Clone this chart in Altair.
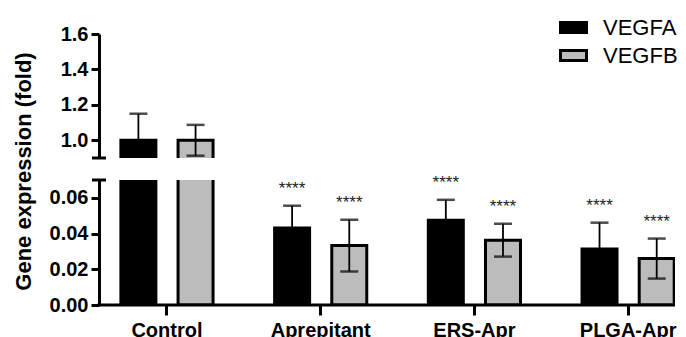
import altair as alt
import pandas as pd

categories = ["Control", "Aprepitant", "ERS-Apr", "PLGA-Apr"]
genes = ["VEGFA", "VEGFB"]
vegfa_mean = [1.0, 0.0431, 0.0474, 0.0313]
vegfa_sd = [0.15, 0.0125, 0.0115, 0.0148]
vegfb_mean = [1.0, 0.0333, 0.0363, 0.0260]
vegfb_sd = [0.087, 0.0145, 0.0092, 0.0112]
stars = ["", "****", "****", "****"]
upper_ticks = [1.0, 1.2, 1.4, 1.6]
lower_ticks = [0.0, 0.02, 0.04, 0.06]

rows = []
for i, c in enumerate(categories):
    for g, m, s in (("VEGFA", vegfa_mean[i], vegfa_sd[i]), ("VEGFB", vegfb_mean[i], vegfb_sd[i])):
        rows.append(dict(cat=c, gene=g, mean=m, lo=m - s, hi=m + s, star=stars[i]))
df = pd.DataFrame(rows)

FONT = "Liberation Sans"
W = 576
x_scale = alt.Scale(domain=categories, paddingInner=0.39, paddingOuter=0.0686, align=1)
off_scale = alt.Scale(domain=genes, paddingInner=0.388, paddingOuter=0.014)
color_scale = alt.Scale(domain=genes, range=["#000000", "#bcbcbc"])
legend = alt.Legend(title=None, orient="none", legendX=460, legendY=-21, padding=0,
                    symbolType="M-1,-0.38H1V0.38H-1Z", symbolSize=676,
                    symbolStrokeColor="black", symbolStrokeWidth=3,
                    labelFont=FONT, labelFontSize=22, labelColor="black",
                    rowPadding=2, labelOffset=15)


def panel(domain, height, yaxis, xaxis, cap_value, bottom):
    y_scale = alt.Scale(domain=domain, zero=False, nice=False)
    x_enc = alt.X("cat:N", scale=x_scale, sort=categories, axis=xaxis)
    off = alt.XOffset("gene:N", scale=off_scale)
    base = alt.Chart(df)
    bars = base.mark_bar(clip=True, stroke="black", strokeWidth=3).encode(
        x=x_enc, xOffset=off,
        y=alt.Y("mean:Q", scale=y_scale, axis=yaxis),
        color=alt.Color("gene:N", scale=color_scale, legend=legend))
    err = base.mark_rule(clip=True, color="black", strokeWidth=1.8).encode(
        x=x_enc, xOffset=off, y="lo:Q", y2="hi:Q")
    cap_hi = base.mark_tick(clip=True, color="black", thickness=2.5, size=18,
                            orient="horizontal").encode(x=x_enc, xOffset=off, y="hi:Q")
    cap_lo = base.mark_tick(clip=True, color="black", thickness=2.5, size=18,
                            orient="horizontal").encode(x=x_enc, xOffset=off, y="lo:Q")
    brk = alt.Chart(pd.DataFrame({"v": [cap_value]})).mark_rule(
        color="black", strokeWidth=3).encode(
        x=alt.value(-7), x2=alt.value(7), y=alt.Y("v:Q", scale=y_scale))
    layers = [bars, err, cap_hi, cap_lo, brk]
    if bottom:
        txt = base.transform_filter(alt.datum.star != "").mark_text(
            dy=-17, fontSize=17, color="#222222", font=FONT).encode(
            x=x_enc, xOffset=off, y="hi:Q", text="star:N")
        baseline = alt.Chart(pd.DataFrame({"v": [0.0]})).mark_rule(
            color="black", strokeWidth=3).encode(
            x=alt.value(-1.5), x2=alt.value(W), y=alt.Y("v:Q", scale=y_scale))
        layers += [txt, baseline]
    return alt.layer(*layers).properties(width=W, height=height)


upper = panel([0.9, 1.6], 124,
              alt.Axis(values=upper_ticks, format=".1f", title=None),
              None, 0.9, False)
lower = panel([0.0, 0.07], 125,
              alt.Axis(values=lower_ticks, format=".2f", title="Gene expression (fold)",
                       titleX=-64, titleY=-9, titleFontSize=22, titleFontWeight="bold",
                       titleFont=FONT, titleColor="black"),
              alt.Axis(title=None, labelAngle=0, labelFontSize=20, tickSize=10,
                       labelPadding=5, domain=False),
              0.07, True)

chart = alt.vconcat(upper, lower, spacing=22, bounds="flush").properties(
    padding={"left": 4, "top": 5, "right": 0, "bottom": 0}
).configure_view(stroke=None).configure_axis(
    domainColor="black", domainWidth=3, tickColor="black", tickWidth=3, tickSize=8,
    labelFont=FONT, labelFontWeight="bold", labelFontSize=20, labelColor="black",
    grid=False, labelPadding=3)

chart.save("out.html", embed_options={"renderer": "svg", "actions": False})
